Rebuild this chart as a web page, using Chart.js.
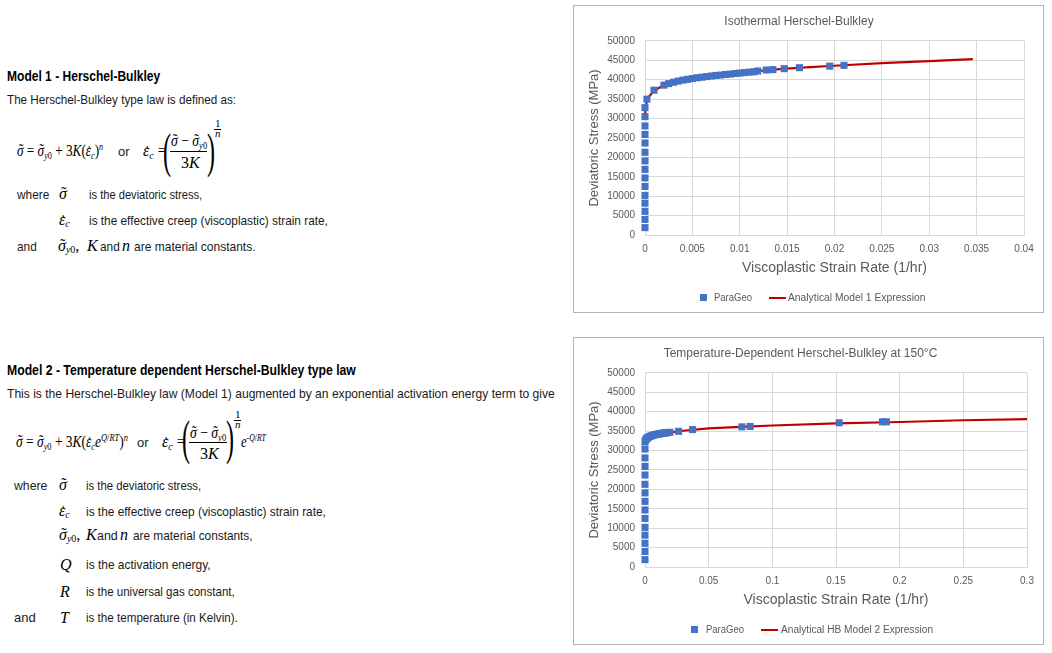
<!DOCTYPE html>
<html lang="en">
<head>
<meta charset="UTF-8">
<title>Herschel-Bulkley models</title>
<style>
  body { margin:0; width:1052px; height:653px; background:#fff; position:relative; overflow:hidden;
         font-family:"Liberation Sans", Arial, sans-serif; }
  .t { position:absolute; white-space:nowrap; font-size:13px; line-height:1; color:#1a1a1a; transform-origin:0 50%; }
  .h { font-weight:bold; font-size:14px; color:#000; }
  .m { position:absolute; white-space:nowrap; font-family:"Liberation Serif","Times New Roman",serif;
       font-size:16px; line-height:1; color:#000; transform-origin:0 50%; }
  .m.s { font-size:11px; }
  .m sub, .m sup { font-size:62%; line-height:0; position:relative; vertical-align:baseline; }
  .m sub { top:0.3em; }
  .m sup { top:-0.6em; }
  .ac { position:relative; display:inline-block; }
  .ac .a { position:absolute; left:1px; right:-1px; top:-1px; text-align:center; font-style:normal; }
  .ac .a.d { top:1px; }
  .bar { position:absolute; height:1px; background:#000; }
  .par { position:absolute; font-family:"Liberation Serif",serif; font-size:48px; line-height:1;
         transform:scaleX(0.5); transform-origin:0 0; }
  .box { position:absolute; left:573px; width:471px; height:308px; border:1px solid #b4b4b4;
         box-sizing:border-box; background:#fff; }
  .box .wrap { position:absolute; left:0; top:0; width:469px; height:306px; }
  .lg { position:absolute; white-space:nowrap; font-size:10px; line-height:1; color:#595959; transform-origin:0 50%; }
  .sq { position:absolute; width:7px; height:7px; background:#4472C4; }
  .ln { position:absolute; width:17px; height:2px; background:#C00000; }
</style>
</head>
<body>

<!-- Model 1 text -->
<div class="t h" style="left:7px; top:69px" data-w="153">Model 1 - Herschel-Bulkley</div>
<div class="t" style="left:7px; top:93px" data-w="229">The Herschel-Bulkley type law is defined as:</div>

<div class="m" style="left:17px; top:142.6px" data-w="86"><span class="ac"><i>σ</i><span class="a">˜</span></span> = <span class="ac"><i>σ</i><span class="a">˜</span></span><sub><i>y</i>0</sub> + 3<i>K</i>(<span class="ac"><i>ε</i><span class="a d">˙</span></span><sub><i>c</i></sub>)<sup><i>n</i></sup></div>
<div class="t" style="left:118px; top:145px">or</div>
<div class="m" style="left:143px; top:142.6px"><span class="ac"><i>ε</i><span class="a d">˙</span></span><sub><i>c</i></sub> =</div>
<div class="par" style="left:163px; top:127px">(</div>
<div class="m" style="left:171px; top:132.6px" data-w="36"><span class="ac"><i>σ</i><span class="a">˜</span></span> − <span class="ac"><i>σ</i><span class="a">˜</span></span><sub><i>y</i>0</sub></div>
<div class="bar" style="left:170px; top:151px; width:37px"></div>
<div class="m" style="left:181px; top:154.6px">3<i>K</i></div>
<div class="par" style="left:207px; top:127px">)</div>
<div class="m s" style="left:215px; top:117.8px">1</div>
<div class="bar" style="left:214px; top:129px; width:7px"></div>
<div class="m s" style="left:215px; top:127.8px"><i>n</i></div>

<div class="t" style="left:17px; top:188px" data-w="32">where</div>
<div class="m" style="left:59px; top:185.5px"><span class="ac"><i>σ</i><span class="a">˜</span></span></div>
<div class="t" style="left:89px; top:188px" data-w="113">is the deviatoric stress,</div>
<div class="m" style="left:59px; top:211.5px"><span class="ac"><i>ε</i><span class="a d">˙</span></span><sub><i>c</i></sub></div>
<div class="t" style="left:89px; top:214px" data-w="239">is the effective creep (viscoplastic) strain rate,</div>
<div class="t" style="left:17px; top:240px" data-w="20">and</div>
<div class="m" style="left:58px; top:237.5px"><span class="ac"><i>σ</i><span class="a">˜</span></span><sub><i>y</i>0</sub>,</div>
<div class="m" style="left:87px; top:237.5px"><i>K</i></div>
<div class="t" style="left:100px; top:240px" data-w="20">and</div>
<div class="m" style="left:122px; top:237.5px"><i>n</i></div>
<div class="t" style="left:134px; top:240px" data-w="122">are material constants.</div>

<!-- Model 2 text -->
<div class="t h" style="left:7px; top:363px" data-w="349">Model 2 - Temperature dependent Herschel-Bulkley type law</div>
<div class="t" style="left:7px; top:387px" data-w="548">This is the Herschel-Bulkley law (Model 1) augmented by an exponential activation energy term to give</div>

<div class="m" style="left:16px; top:433.6px" data-w="112"><span class="ac"><i>σ</i><span class="a">˜</span></span> = <span class="ac"><i>σ</i><span class="a">˜</span></span><sub><i>y</i>0</sub> + 3<i>K</i>(<span class="ac"><i>ε</i><span class="a d">˙</span></span><sub><i>c</i></sub><i>e</i><sup><i>Q</i>/<i>RT</i></sup>)<sup><i>n</i></sup></div>
<div class="t" style="left:137px; top:436px">or</div>
<div class="m" style="left:162px; top:433.6px"><span class="ac"><i>ε</i><span class="a d">˙</span></span><sub><i>c</i></sub> =</div>
<div class="par" style="left:182px; top:414px">(</div>
<div class="m" style="left:190px; top:424.6px" data-w="36"><span class="ac"><i>σ</i><span class="a">˜</span></span> − <span class="ac"><i>σ</i><span class="a">˜</span></span><sub><i>y</i>0</sub></div>
<div class="bar" style="left:189px; top:442px; width:38px"></div>
<div class="m" style="left:200px; top:445.6px">3<i>K</i></div>
<div class="par" style="left:226px; top:414px">)</div>
<div class="m s" style="left:235px; top:408.8px">1</div>
<div class="bar" style="left:234px; top:420px; width:7px"></div>
<div class="m s" style="left:235px; top:418.8px"><i>n</i></div>
<div class="m" style="left:241px; top:433.6px" data-w="25"><i>e</i><sup>-<i>Q</i>/<i>RT</i></sup></div>

<div class="t" style="left:14px; top:479px" data-w="33">where</div>
<div class="m" style="left:59px; top:476.5px"><span class="ac"><i>σ</i><span class="a">˜</span></span></div>
<div class="t" style="left:86px; top:479px" data-w="115">is the deviatoric stress,</div>
<div class="m" style="left:59px; top:502.5px"><span class="ac"><i>ε</i><span class="a d">˙</span></span><sub><i>c</i></sub></div>
<div class="t" style="left:86px; top:505px" data-w="240">is the effective creep (viscoplastic) strain rate,</div>
<div class="m" style="left:59px; top:526.5px"><span class="ac"><i>σ</i><span class="a">˜</span></span><sub><i>y</i>0</sub>,</div>
<div class="m" style="left:86px; top:526.5px"><i>K</i></div>
<div class="t" style="left:97px; top:529px" data-w="21">and</div>
<div class="m" style="left:120px; top:526.5px"><i>n</i></div>
<div class="t" style="left:133px; top:529px" data-w="120">are material constants,</div>
<div class="m" style="left:60px; top:557px"><i>Q</i></div>
<div class="t" style="left:86px; top:558px" data-w="125">is the activation energy,</div>
<div class="m" style="left:60px; top:584px"><i>R</i></div>
<div class="t" style="left:86px; top:585px" data-w="149">is the universal gas constant,</div>
<div class="t" style="left:14px; top:611px" data-w="22">and</div>
<div class="m" style="left:60px; top:610px"><i>T</i></div>
<div class="t" style="left:86px; top:611px" data-w="152">is the temperature (in Kelvin).</div>

<!-- Charts -->
<div class="box" style="top:5px">
  <div class="wrap"><canvas id="chart1"></canvas></div>
  <span class="sq" style="left:126px; top:288px"></span>
  <span class="lg" style="left:140px; top:286.5px" data-w="38">ParaGeo</span>
  <span class="ln" style="left:195px; top:290.5px"></span>
  <span class="lg" style="left:214px; top:286.5px" data-w="137">Analytical Model 1 Expression</span>
</div>
<div class="box" style="top:337px">
  <div class="wrap"><canvas id="chart2"></canvas></div>
  <span class="sq" style="left:117px; top:288px"></span>
  <span class="lg" style="left:132px; top:286.5px" data-w="38">ParaGeo</span>
  <span class="ln" style="left:187px; top:290.5px"></span>
  <span class="lg" style="left:207px; top:286.5px" data-w="152">Analytical HB Model 2 Expression</span>
</div>

<script src="https://cdn.jsdelivr.net/npm/chart.js"></script>
<script>
// ---- data ----
const stressTicks = [0, 5000, 10000, 15000, 20000, 25000, 30000, 35000, 40000, 45000, 50000];
const stressTickLabels = ['0', '5000', '10000', '15000', '20000', '25000', '30000', '35000', '40000', '45000', '50000'];

// Model 1 (isothermal)
const m1RateTicks = [0, 0.005, 0.01, 0.015, 0.02, 0.025, 0.03, 0.035, 0.04];
const m1RateTickLabels = ['0', '0.005', '0.01', '0.015', '0.02', '0.025', '0.03', '0.035', '0.04'];
const m1ParaGeoRate = [
    0, 0, 0, 0, 0, 0, 0, 0, 0, 0, 0, 0, 0, 0, 0,
    0.0002, 0.00095,
    0.002, 0.0025, 0.003, 0.0035, 0.004, 0.0045, 0.005, 0.0055, 0.006, 0.0065,
    0.007, 0.0075, 0.008, 0.0085, 0.009, 0.0095, 0.01, 0.0105, 0.011, 0.0115,
    0.0119, 0.0128, 0.0135, 0.0147, 0.0163, 0.0195, 0.021
];
const m1ParaGeoStress = [
    1900, 4000, 6100, 8200, 10200, 12500, 14700, 16900, 19100, 21300, 23700, 25900, 28100, 30500, 32800,
    35000, 37300,
    38600, 39000, 39350, 39650, 39900, 40100, 40300, 40500, 40650, 40800,
    40950, 41100, 41200, 41350, 41450, 41600, 41700, 41850, 41950, 42050,
    42250, 42500, 42600, 42850, 43100, 43500, 43700
];
const m1ModelRate = [0, 0.0002, 0.001, 0.002, 0.003, 0.004, 0.005, 0.0065, 0.008, 0.01, 0.012, 0.0145, 0.017, 0.02, 0.025, 0.03, 0.0346];
const m1ModelStress = [31000, 35000, 37300, 38600, 39350, 39900, 40300, 40800, 41200, 41700, 42250, 42800, 43200, 43600, 44250, 44800, 45300];

// Model 2 (temperature dependent, 150°C)
const m2RateTicks = [0, 0.05, 0.1, 0.15, 0.2, 0.25, 0.3];
const m2RateTickLabels = ['0', '0.05', '0.1', '0.15', '0.2', '0.25', '0.3'];
const m2ParaGeoRate = [
    0, 0, 0, 0, 0, 0, 0, 0, 0, 0, 0, 0, 0, 0,
    0, 0.0005, 0.001, 0.0015, 0.002, 0.003, 0.004, 0.005, 0.006, 0.007, 0.008,
    0.009, 0.01, 0.011, 0.012, 0.013, 0.014, 0.015, 0.016, 0.017, 0.018,
    0.0196, 0.0264, 0.0374, 0.0761, 0.0826, 0.1525, 0.1865, 0.1896
];
const m2ParaGeoStress = [
    1900, 4000, 6100, 8200, 10200, 12500, 14700, 16900, 19100, 21300, 23700, 25900, 28100, 30400,
    32300, 32700, 32950, 33150, 33300, 33500, 33650, 33800, 33900, 34000, 34080,
    34150, 34220, 34290, 34350, 34410, 34460, 34510, 34560, 34600, 34640,
    34700, 34950, 35400, 36100, 36200, 37150, 37400, 37400
];
const m2ModelRate = [0, 0.001, 0.005, 0.01, 0.02, 0.03, 0.05, 0.075, 0.1, 0.15, 0.2, 0.25, 0.3];
const m2ModelStress = [31500, 32950, 33800, 34220, 34700, 35100, 35700, 36100, 36450, 37000, 37350, 37800, 38100];

// ---- charts ----
Chart.defaults.font.family = '"Liberation Sans", Arial, sans-serif';
Chart.defaults.color = '#595959';

function toPoints(xs, ys) {
    return xs.map((x, i) => ({ x: x, y: ys[i] }));
}

function makeChart(id, title, rateTicks, rateLabels, pgRate, pgStress, mdRate, mdStress, modelLabel, rightPad) {
    const ctx = document.getElementById(id).getContext('2d');
    return new Chart(ctx, {
        type: 'scatter',
        data: {
            datasets: [{
                label: 'ParaGeo',
                data: toPoints(pgRate, pgStress),
                pointStyle: 'rect',
                pointRadius: 5,
                pointHoverRadius: 5,
                backgroundColor: '#4472C4',
                borderColor: '#4472C4',
                borderWidth: 0,
                clip: false,
                order: 1
            }, {
                label: modelLabel,
                data: toPoints(mdRate, mdStress),
                showLine: true,
                pointRadius: 0,
                borderColor: '#C00000',
                backgroundColor: '#C00000',
                borderWidth: 2.2,
                clip: false,
                order: 2
            }]
        },
        options: {
            responsive: true,
            maintainAspectRatio: false,
            animation: false,
            layout: { padding: { left: 0, right: rightPad, top: 0, bottom: 0 } },
            plugins: {
                legend: { display: false },
                tooltip: { enabled: false },
                title: {
                    display: true,
                    text: title,
                    color: '#595959',
                    font: { size: 12, weight: 'normal' },
                    padding: { top: 8, bottom: 12.5 }
                }
            },
            scales: {
                x: {
                    type: 'linear',
                    min: rateTicks[0],
                    max: rateTicks[rateTicks.length - 1],
                    afterBuildTicks: s => { s.ticks = rateTicks.map(v => ({ value: v })); },
                    afterFit: s => { s.height = 77; },
                    ticks: {
                        callback: (v, i) => rateLabels[i],
                        font: { size: 10 },
                        color: '#595959',
                        padding: 8,
                        maxRotation: 0
                    },
                    grid: { color: '#d9d9d9', drawTicks: false },
                    border: { color: '#d9d9d9' },
                    title: {
                        display: true,
                        text: 'Viscoplastic Strain Rate (1/hr)',
                        color: '#595959',
                        font: { size: 14 },
                        padding: { top: 0, bottom: 35 }
                    }
                },
                y: {
                    min: 0,
                    max: 50000,
                    afterBuildTicks: s => { s.ticks = stressTicks.map(v => ({ value: v })); },
                    afterFit: s => { s.width = 71; },
                    ticks: {
                        callback: (v, i) => stressTickLabels[i],
                        font: { size: 10 },
                        color: '#595959',
                        padding: 10
                    },
                    grid: { color: '#d9d9d9', drawTicks: false },
                    border: { color: '#d9d9d9' },
                    title: {
                        display: true,
                        text: 'Deviatoric Stress (MPa)',
                        color: '#595959',
                        font: { size: 13 },
                        padding: { top: 12.5, bottom: 0 }
                    }
                }
            }
        }
    });
}

makeChart('chart1', 'Isothermal Herschel-Bulkley', m1RateTicks, m1RateTickLabels,
    m1ParaGeoRate, m1ParaGeoStress, m1ModelRate, m1ModelStress, 'Analytical Model 1 Expression', 19);
makeChart('chart2', 'Temperature-Dependent Herschel-Bulkley at 150°C', m2RateTicks, m2RateTickLabels,
    m2ParaGeoRate, m2ParaGeoStress, m2ModelRate, m2ModelStress, 'Analytical HB Model 2 Expression', 16);

// squeeze text runs to the widths they take in the reference
document.querySelectorAll('[data-w]').forEach(el => {
    const w = parseFloat(el.dataset.w);
    const nat = el.offsetWidth;
    if (nat > 0) el.style.transform = 'scaleX(' + (w / nat).toFixed(3) + ')';
});
</script>
</body>
</html>
